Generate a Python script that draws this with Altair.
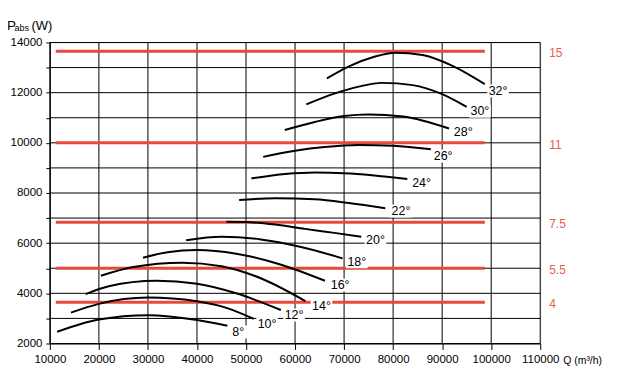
import altair as alt
import pandas as pd

# ---- data ----
curve_names = ["8°", "10°", "12°", "14°", "16°", "18°", "20°", "22°", "24°", "26°", "28°", "30°", "32°"]
curve_q = [
    [11500, 20000, 30000, 40000, 46200],
    [14300, 20000, 30000, 40000, 46000, 51600],
    [17300, 22000, 31700, 40000, 48000, 57100],
    [20400, 27000, 37000, 45000, 53000, 62100],
    [29000, 34000, 40000, 48000, 57000, 66100],
    [37800, 45000, 53000, 61000, 69700],
    [46000, 50000, 56000, 62000, 68000, 73500],
    [48600, 56000, 64000, 71000, 78400],
    [51100, 58000, 64200, 70000, 75700, 82900],
    [53500, 60000, 66000, 73000, 80000, 87700],
    [57900, 64000, 70000, 75000, 82000, 91400],
    [62300, 68000, 73000, 77700, 84000, 90000, 95000],
    [66500, 71000, 76000, 80400, 86000, 92000, 98700],
]
curve_p = [
    [2470, 2960, 3130, 2940, 2710],
    [3230, 3580, 3830, 3680, 3420, 2980],
    [3970, 4280, 4500, 4380, 4000, 3335],
    [4700, 5050, 5220, 5080, 4600, 3690],
    [5420, 5640, 5725, 5580, 5150, 4500],
    [6120, 6255, 6150, 5860, 5395],
    [6850, 6840, 6740, 6570, 6410, 6260],
    [7720, 7790, 7750, 7600, 7390],
    [8580, 8760, 8820, 8790, 8710, 8555],
    [9440, 9680, 9830, 9910, 9880, 9740],
    [10510, 10830, 11070, 11130, 11050, 10570],
    [11530, 11960, 12240, 12390, 12300, 11940, 11430],
    [12570, 13050, 13420, 13590, 13500, 13080, 12340],
]
label_q = [48400, 54300, 59800, 65400, 69200, 72600, 76400, 81600, 85800, 90200, 94300, 97700, 101400]
label_p = [2460, 2780, 3135, 3495, 4330, 5260, 6120, 7280, 8410, 9470, 10440, 11260, 12070]

motor_kw = ["15", "11", "7.5", "5.5", "4"]
motor_power = [13650, 10000, 6830, 5000, 3640]
motor_q_start = 11200
motor_q_end = 98700

x_ticks = list(range(10000, 110001, 10000))
y_ticks = list(range(2000, 14001, 1000))

# ---- tables ----
rows = []
for name, qs, ps in zip(curve_names, curve_q, curve_p):
    for i, (q, p) in enumerate(zip(qs, ps)):
        rows.append({"curve": name, "i": i, "x": q, "y": p})
curves_df = pd.DataFrame(rows)
labels_df = pd.DataFrame({"label": curve_names, "x": label_q, "y": label_p})
motors_df = pd.DataFrame({"kw": motor_kw, "y": motor_power,
                          "x": [motor_q_start] * len(motor_kw),
                          "x2": [motor_q_end] * len(motor_kw)})
motor_lbl_df = pd.DataFrame({"kw": motor_kw, "y": motor_power, "x": [110000] * len(motor_kw)})
vgrid_df = pd.DataFrame({"x": x_ticks})
hgrid_df = pd.DataFrame({"y": y_ticks})

FONT = "Liberation Sans"
RED = "#e8493c"
RED_TXT = "#ea5a50"

xs = alt.Scale(domain=[10000, 110000], nice=False, zero=False)
ys = alt.Scale(domain=[2000, 14000], nice=False, zero=False)
x_axis = alt.Axis(values=x_ticks, format="d", title=None, grid=False,
                  domainColor="black", tickColor="black",
                  tickSize=6, labelPadding=4, labelFont=FONT, labelFontSize=11.5,
                  labelColor="black", labelFlush=False)
y_axis = alt.Axis(values=y_ticks, format="d", title=None, grid=False,
                  domainColor="black", tickColor="black",
                  tickSize=4, labelPadding=4, labelFont=FONT, labelFontSize=11.5,
                  labelColor="black", labelFlush=False,
                  labelExpr="datum.value % 2000 === 0 ? datum.label : ''")

X = alt.X("x:Q", scale=xs, axis=x_axis)
Y = alt.Y("y:Q", scale=ys, axis=y_axis)

vgrid = alt.Chart(vgrid_df).mark_rule(color="black", strokeWidth=1).encode(
    x=X, y=alt.value(0), y2=alt.value(302))
hgrid = alt.Chart(hgrid_df).mark_rule(color="black", strokeWidth=1).encode(
    y=Y, x=alt.value(0), x2=alt.value(492))

red_lines = alt.Chart(motors_df).mark_rule(color=RED, strokeWidth=3).encode(
    x=X, x2="x2:Q", y=Y)

boxes = alt.Chart(labels_df).mark_point(
    shape="M-1,-0.6L1,-0.6L1,0.6L-1,0.6Z", filled=True, color="white",
    opacity=1, size=470, strokeWidth=0).encode(x=X, y=Y)

lines = alt.Chart(curves_df).mark_line(color="black", strokeWidth=2, interpolate="monotone").encode(
    x=X, y=Y, detail="curve:N", order="i:Q")

curve_text = alt.Chart(labels_df).mark_text(
    font=FONT, fontSize=12.5, color="black", align="center", baseline="middle").encode(
    x=X, y=Y, text="label:N")

motor_text = alt.Chart(motor_lbl_df).mark_text(
    font=FONT, fontSize=12, color=RED_TXT, align="left", baseline="middle", dx=9, dy=2).encode(
    x=X, y=Y, text="kw:N")

title_df = pd.DataFrame({"t": ["P", "abs", "(W)", "Q (m³/h)"]})
t_p = alt.Chart(title_df).transform_filter("datum.t == 'P'").mark_text(
    font=FONT, fontSize=13.5, align="left", baseline="alphabetic", color="black").encode(
    x=alt.value(-43), y=alt.value(-13), text="t:N")
t_abs = alt.Chart(title_df).transform_filter("datum.t == 'abs'").mark_text(
    font=FONT, fontSize=9, align="left", baseline="alphabetic", color="black").encode(
    x=alt.value(-35.5), y=alt.value(-11.5), text="t:N")
t_w = alt.Chart(title_df).transform_filter("datum.t == '(W)'").mark_text(
    font=FONT, fontSize=13, align="left", baseline="alphabetic", color="black").encode(
    x=alt.value(-18.5), y=alt.value(-13), text="t:N")
t_q = alt.Chart(title_df).transform_filter("datum.t == 'Q (m³/h)'").mark_text(
    font=FONT, fontSize=10.5, align="left", baseline="middle", color="black").encode(
    x=alt.value(515), y=alt.value(320), text="t:N")

chart = alt.layer(vgrid, hgrid, red_lines, boxes, lines, curve_text, motor_text,
                  t_p, t_abs, t_w, t_q).properties(
    width=492, height=302,
    autosize=alt.AutoSizeParams(type="none"),
    padding={"left": 42, "top": 34, "right": 70, "bottom": 30},
).configure_view(stroke=None).configure(background="white")

chart.save("out.html", embed_options={"renderer": "svg", "actions": False})
